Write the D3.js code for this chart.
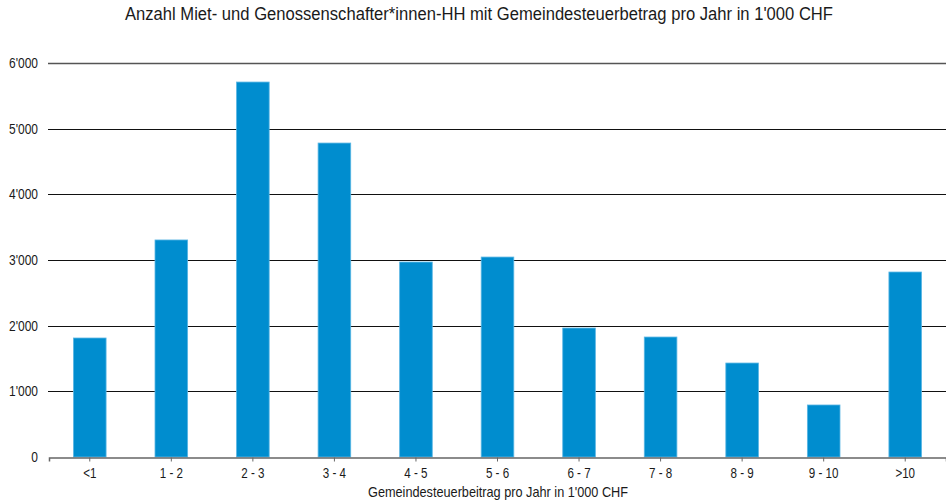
<!DOCTYPE html>
<html>
<head>
<meta charset="utf-8">
<script src="https://cdn.jsdelivr.net/npm/d3@7"></script>
<style>
  body { margin: 0; background: #fff; }
  svg { display: block; }
  text { font-family: "Liberation Sans", Arial, sans-serif; fill: #1a1a1a; }
</style>
</head>
<body>
<svg id="chart" width="946" height="503"></svg>
<script>
// Steuerbetrag-Klassen (in 1'000 CHF) und Anzahl Haushalte
const categories = ["<1", "1 - 2", "2 - 3", "3 - 4", "4 - 5", "5 - 6", "6 - 7", "7 - 8", "8 - 9", "9 - 10", ">10"];
const households = [1812, 3305, 5710, 4781, 2969, 3045, 1964, 1827, 1431, 792, 2817];
const yTicks = [0, 1000, 2000, 3000, 4000, 5000, 6000];

const titleText = "Anzahl Miet- und Genossenschafter*innen-HH mit Gemeindesteuerbetrag pro Jahr in 1'000 CHF";
const xTitleText = "Gemeindesteuerbeitrag pro Jahr in 1'000 CHF";

const svg = d3.select("#chart");
const margin = { left: 49, right: 0, top: 63, bottom: 46 };
const W = 946, H = 503;
const narrow = 0.8; // horizontal squeeze for a condensed look

const x = d3.scaleBand()
  .domain(categories)
  .range([margin.left, W - margin.right])
  .paddingInner(0.6)
  .paddingOuter(0.3);

const y = d3.scaleLinear()
  .domain([0, 6000])
  .range([H - margin.bottom, margin.top]);

const fmt = v => d3.format(",")(v).replace(/,/g, "'");

// Horizontal gridlines
svg.append("g")
  .selectAll("line")
  .data(yTicks.filter(d => d > 0))
  .join("line")
  .attr("x1", margin.left - 1)
  .attr("x2", W)
  .attr("y1", d => Math.round(y(d)) + 0.5)
  .attr("y2", d => Math.round(y(d)) + 0.5)
  .attr("stroke", d => d === 6000 ? "#555" : "#111")
  .attr("stroke-width", d => d === 6000 ? 1.5 : 1);

// Y-axis labels
svg.append("g")
  .selectAll("text")
  .data(yTicks)
  .join("text")
  .attr("transform", d => `translate(38,${Math.round(y(d)) + 5}) scale(${narrow},1)`)
  .attr("text-anchor", "end")
  .attr("font-size", 15)
  .text(fmt);

// Bars
svg.append("g")
  .selectAll("rect")
  .data(households)
  .join("rect")
  .attr("x", (d, i) => x(categories[i]))
  .attr("y", d => y(d))
  .attr("width", x.bandwidth())
  .attr("height", d => y(0) - y(d))
  .attr("fill", "#008dcf")
  .attr("stroke", "#5ab6e4")
  .attr("stroke-width", 0.8);

// X axis
const xAxis = svg.append("g")
  .attr("transform", `translate(0,${Math.round(y(0)) + 0.5})`)
  .call(d3.axisBottom(x).tickSize(4).tickSizeOuter(4).tickPadding(6));
xAxis.select(".domain").attr("stroke", "#666").attr("stroke-width", 1.5);
xAxis.selectAll(".tick line").attr("stroke", "#666");
xAxis.selectAll(".tick text")
  .attr("font-size", 14.5)
  .attr("fill", "#1a1a1a")
  .attr("transform", `scale(${narrow},1)`)
  .style("font-family", '"Liberation Sans", Arial, sans-serif');

// Title
svg.append("text")
  .attr("x", 125)
  .attr("y", 20)
  .attr("font-size", 17.5)
  .attr("textLength", 708)
  .attr("lengthAdjust", "spacingAndGlyphs")
  .text(titleText);

// X-axis title
svg.append("text")
  .attr("x", 368)
  .attr("y", 497)
  .attr("font-size", 14.5)
  .attr("textLength", 260)
  .attr("lengthAdjust", "spacingAndGlyphs")
  .text(xTitleText);
</script>
</body>
</html>
